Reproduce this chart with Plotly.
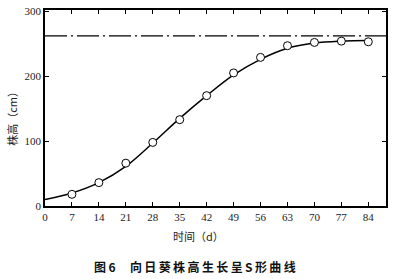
import plotly.graph_objects as go

days = [7, 14, 21, 28, 35, 42, 49, 56, 63, 70, 77, 84]
heights = [18, 36, 66, 98, 133, 170, 205, 229, 247, 252, 254, 253]

curve_days = [0, 7, 14, 21, 28, 35, 42, 49, 56, 63, 70, 77, 84]
curve_vals = [10, 20, 36, 61, 97, 135, 170, 202, 226, 243, 251, 254, 255]

asymptote = 262
x_ticks = [0, 7, 14, 21, 28, 35, 42, 49, 56, 63, 70, 77, 84]
y_ticks = [0, 100, 200, 300]

serif = "Liberation Serif, DejaVu Serif, serif"
cjk = "Noto Sans CJK SC, Noto Sans, sans-serif"

fig = go.Figure()
fig.add_trace(go.Scatter(x=[0, 88.6], y=[asymptote, asymptote], mode="lines",
                         line=dict(color="black", width=1.3, dash="22px,4px,2px,4px"),
                         hoverinfo="skip"))
fig.add_trace(go.Scatter(x=curve_days, y=curve_vals, mode="lines",
                         line=dict(color="black", width=1.5, shape="spline", smoothing=1.0),
                         hoverinfo="skip"))
fig.add_trace(go.Scatter(x=days, y=heights, mode="markers",
                         marker=dict(symbol="circle", size=8, color="white",
                                     line=dict(color="black", width=1))))

axis_common = dict(showgrid=False, zeroline=False, showline=True, linecolor="black",
                   linewidth=1.5, mirror="ticks", ticks="inside", ticklen=4,
                   tickcolor="black", tickwidth=1,
                   tickfont=dict(family=serif, size=11, color="#222"))

fig.update_xaxes(range=[0, 88.6], tickvals=x_ticks, ticktext=[str(v) for v in x_ticks],
                 **axis_common)
fig.update_yaxes(range=[0, 302], tickvals=y_ticks, ticktext=[str(v) for v in y_ticks],
                 **axis_common)

caption = "\u2009".join("图6") + "\u3000\u2009" + "\u2009".join("向日葵株高生长呈S形曲线")

fig.update_layout(
    width=400, height=279,
    margin=dict(l=45, r=14, t=5, b=73),
    paper_bgcolor="white", plot_bgcolor="white",
    showlegend=False,
    annotations=[
        dict(text="株高（cm）", xref="paper", yref="paper", x=-0.097, y=0.46,
             textangle=-90, showarrow=False, font=dict(family=cjk, size=11, color="#222"),
             xanchor="center", yanchor="middle"),
        dict(text="时间（d）", xref="paper", yref="paper", x=0.45, y=-0.155,
             showarrow=False, font=dict(family=cjk, size=11, color="#222"),
             xanchor="center", yanchor="middle"),
        dict(text="<b>" + caption + "</b>", xref="paper", yref="paper",
             x=0.44, y=-0.31, showarrow=False,
             font=dict(family=cjk, size=12, color="#111"),
             xanchor="center", yanchor="middle"),
    ],
)

fig.write_html("out.html")
